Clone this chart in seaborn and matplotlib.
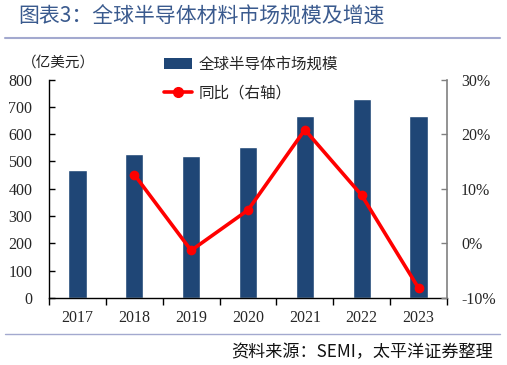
import matplotlib
matplotlib.use("Agg")
import matplotlib.pyplot as plt
import seaborn as sns
import numpy as np
import pandas as pd
from matplotlib.lines import Line2D
from matplotlib.patches import Patch

years = ["2017", "2018", "2019", "2020", "2021", "2022", "2023"]
market = [469, 528, 521, 553, 668, 727, 667]
growth_years = ["2018", "2019", "2020", "2021", "2022", "2023"]
growth = [12.6, -1.3, 6.1, 20.8, 8.8, -8.2]
left_ticks = [0, 100, 200, 300, 400, 500, 600, 700, 800]
right_ticks = [-10, 0, 10, 20, 30]

sns.set_theme(style="white")
plt.rcParams['font.family'] = ['Noto Sans CJK SC', 'DejaVu Sans']
serif = ['Liberation Serif', 'DejaVu Serif']

W, H = 507, 365
fig = plt.figure(figsize=(W / 100, H / 100), dpi=100)
ax = fig.add_axes([49 / W, 1 - 298 / H, (447 - 49) / W, (298 - 79.5) / H])

df = pd.DataFrame({"year": years, "market": market})
sns.barplot(data=df, x="year", y="market", ax=ax, color="#1F4676",
            width=0.32, saturation=1)
ax.set_xlim(-0.5, 6.5)
ax.set_ylim(0, 800)
ax.set_yticks(left_ticks)
ax.set_yticklabels([str(t) for t in left_ticks], family=serif, fontsize=11.5)
ax.set_xticks(range(len(years)))
ax.set_xticklabels(years, family=serif, fontsize=11.5)
ax.tick_params(axis='x', length=0, pad=9)
ax.tick_params(axis='y', direction='in', length=4, width=1, color='black', pad=12, left=True)
# category boundary ticks on x-axis
ax.set_xticks(np.arange(-0.5, 7.0, 1.0), minor=True)
ax.tick_params(axis='x', which='minor', direction='out', length=5, width=1, color='black', bottom=True)
ax.set_xlabel("")
ax.set_ylabel("")
for s in ['top', 'right']:
    ax.spines[s].set_visible(False)
ax.spines['left'].set_color('black')
ax.spines['bottom'].set_color('black')
ax.spines['left'].set_linewidth(1)
ax.spines['bottom'].set_linewidth(1)

ax2 = ax.twinx()
gx = [years.index(y) for y in growth_years]
sns.lineplot(x=gx, y=growth, ax=ax2, color="#FF0000", linewidth=2.6,
             marker='o', markersize=7, markeredgewidth=0)
ax2.set_ylim(-10, 30)
ax2.set_yticks(right_ticks)
ax2.set_yticklabels([f"{t}%" for t in right_ticks], family=serif, fontsize=11.5)
ax2.tick_params(axis='y', direction='in', length=4, width=1, color='#808080', pad=10, right=True)
for s in ['top', 'left', 'bottom']:
    ax2.spines[s].set_visible(False)
ax2.spines['right'].set_color('#808080')
ax2.spines['right'].set_linewidth(1.2)
ax2.set_ylabel("")
ax2.grid(False)
ax.grid(False)

# legend
handles = [Patch(facecolor="#1F4676", edgecolor="none"),
           Line2D([0], [0], color="#FF0000", linewidth=2.6, marker='o', markersize=7)]
labels = ["全球半导体市场规模", "同比（右轴）"]
fig.legend(handles, labels, loc='upper left', bbox_to_anchor=(150 / W, 1 - 42 / H),
           frameon=False, fontsize=11.2, handlelength=1.8, handleheight=0.7,
           labelspacing=0.75, handletextpad=0.4)

# unit label
fig.text(22 / W, 1 - 63 / H, "（亿美元）", fontsize=10.5, va='center', ha='left', color='#222222')

# title
fig.text(18 / W, 1 - 17 / H, "图表3：全球半导体材料市场规模及增速", fontsize=15,
         va='center', ha='left', color='#3A5A8E')
fig.add_artist(Line2D([5 / W, 500 / W], [1 - 37.5 / H, 1 - 37.5 / H], color='#A3A9CF', linewidth=1.5))
fig.add_artist(Line2D([5 / W, 500 / W], [1 - 334 / H, 1 - 334 / H], color='#A3A9CF', linewidth=1.0))
fig.text(493 / W, 1 - 352 / H, "资料来源：SEMI，太平洋证券整理", fontsize=12.3,
         va='center', ha='right', color='#111111', style='italic')

fig.savefig("out.png", dpi=100)
